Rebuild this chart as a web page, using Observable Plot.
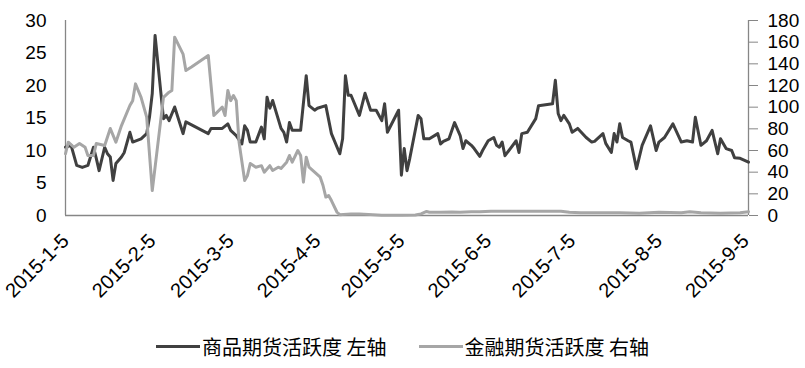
<!DOCTYPE html>
<html>
<head>
<meta charset="utf-8">
<script src="https://cdn.jsdelivr.net/npm/d3@7"></script>
<script src="https://cdn.jsdelivr.net/npm/@observablehq/plot@0.6"></script>
<style>
  html, body { margin: 0; padding: 0; background: #fff; }
  #chart { width: 805px; }
  .legend { display: flex; justify-content: center; align-items: center; gap: 32px;
    font-family: "Noto Sans CJK SC", sans-serif; font-size: 20px; color: #000; margin-top: 20px; }
  .legend .item { display: flex; align-items: center; }
  .legend .sw { width: 44px; height: 3px; margin-right: 2px; }
</style>
</head>
<body>
<div id="chart"></div>
<div class="legend">
  <div class="item"><span class="sw" style="background:#404040"></span><span>商品期货活跃度 左轴</span></div>
  <div class="item"><span class="sw" style="background:#a6a6a6"></span><span>金融期货活跃度 右轴</span></div>
</div>
<script>
// Commodity futures activity (left axis)
const commodityDates = ["2015-01-05","2015-01-07","2015-01-09","2015-01-11","2015-01-13","2015-01-15","2015-01-16","2015-01-17","2015-01-19","2015-01-20","2015-01-21","2015-01-22","2015-01-23","2015-01-25","2015-01-26","2015-01-28","2015-01-29","2015-02-01","2015-02-03","2015-02-04","2015-02-05","2015-02-06","2015-02-09","2015-02-10","2015-02-11","2015-02-13","2015-02-16","2015-02-17","2015-02-25","2015-02-26","2015-03-02","2015-03-04","2015-03-05","2015-03-07","2015-03-09","2015-03-10","2015-03-11","2015-03-12","2015-03-14","2015-03-16","2015-03-17","2015-03-18","2015-03-19","2015-03-20","2015-03-23","2015-03-24","2015-03-25","2015-03-26","2015-03-27","2015-03-30","2015-04-01","2015-04-02","2015-04-04","2015-04-05","2015-04-08","2015-04-10","2015-04-13","2015-04-14","2015-04-15","2015-04-16","2015-04-17","2015-04-20","2015-04-22","2015-04-24","2015-04-26","2015-04-28","2015-04-29","2015-04-30","2015-05-04","2015-05-05","2015-05-06","2015-05-07","2015-05-08","2015-05-11","2015-05-12","2015-05-13","2015-05-15","2015-05-18","2015-05-19","2015-05-20","2015-05-22","2015-05-24","2015-05-26","2015-05-27","2015-05-28","2015-05-30","2015-05-31","2015-06-02","2015-06-03","2015-06-05","2015-06-07","2015-06-08","2015-06-09","2015-06-10","2015-06-11","2015-06-15","2015-06-16","2015-06-17","2015-06-19","2015-06-22","2015-06-23","2015-06-28","2015-06-29","2015-06-30","2015-07-01","2015-07-02","2015-07-04","2015-07-05","2015-07-07","2015-07-10","2015-07-12","2015-07-13","2015-07-16","2015-07-17","2015-07-19","2015-07-20","2015-07-21","2015-07-22","2015-07-23","2015-07-25","2015-07-26","2015-07-28","2015-07-30","2015-08-02","2015-08-04","2015-08-05","2015-08-07","2015-08-10","2015-08-13","2015-08-15","2015-08-17","2015-08-18","2015-08-20","2015-08-22","2015-08-24","2015-08-26","2015-08-27","2015-08-29","2015-08-31","2015-09-01","2015-09-03","2015-09-06"];
const commodityValues = [10.5,10.8,7.7,7.4,7.7,10.5,8.8,6.9,10.5,9.5,9.0,5.4,8.0,9.0,9.7,12.8,11.3,11.8,12.6,15.1,18.8,27.7,14.9,15.4,14.6,16.7,12.6,14.4,12.6,13.4,13.4,14.1,13.1,12.3,11.0,13.8,13.1,11.3,11.3,13.6,11.8,18.2,16.5,17.7,13.4,12.8,11.3,14.3,13.1,13.1,21.5,16.9,16.2,16.5,16.9,12.6,9.5,11.8,21.5,18.5,18.5,15.4,18.8,16.2,16.2,14.6,17.2,12.8,16.2,6.2,10.3,6.9,8.8,15.4,14.9,11.8,11.8,12.6,11.0,11.4,11.8,14.3,12.3,10.3,11.5,10.8,10.3,9.1,10.0,11.5,12.0,10.8,10.5,11.3,9.2,11.5,9.7,12.6,12.8,14.9,16.9,17.2,20.8,15.7,14.6,15.4,14.1,12.8,13.4,12.0,11.3,11.4,12.6,11.1,9.7,12.6,11.3,14.1,12.0,11.5,11.3,7.2,10.8,13.8,10.0,11.3,12.0,14.1,11.3,11.5,11.3,15.1,10.8,11.5,13.1,9.5,11.8,10.3,10.0,8.9,8.8,8.2];

// Financial futures activity (right axis)
const financialDates = ["2015-01-05","2015-01-06","2015-01-08","2015-01-10","2015-01-12","2015-01-13","2015-01-15","2015-01-16","2015-01-19","2015-01-21","2015-01-23","2015-01-25","2015-01-28","2015-01-29","2015-01-30","2015-02-01","2015-02-03","2015-02-05","2015-02-09","2015-02-11","2015-02-12","2015-02-13","2015-02-16","2015-02-17","2015-02-19","2015-02-25","2015-02-27","2015-03-02","2015-03-03","2015-03-04","2015-03-05","2015-03-06","2015-03-07","2015-03-08","2015-03-10","2015-03-11","2015-03-12","2015-03-14","2015-03-16","2015-03-17","2015-03-19","2015-03-20","2015-03-22","2015-03-23","2015-03-25","2015-03-26","2015-03-27","2015-03-29","2015-03-30","2015-03-31","2015-04-01","2015-04-02","2015-04-04","2015-04-06","2015-04-07","2015-04-08","2015-04-09","2015-04-10","2015-04-12","2015-04-13","2015-04-17","2015-04-20","2015-04-28","2015-05-05","2015-05-10","2015-05-12","2015-05-14","2015-05-15","2015-05-19","2015-05-23","2015-05-26","2015-05-30","2015-06-02","2015-06-06","2015-06-09","2015-06-17","2015-06-24","2015-07-01","2015-07-04","2015-07-08","2015-07-15","2015-07-22","2015-07-29","2015-08-05","2015-08-13","2015-08-16","2015-08-20","2015-08-27","2015-09-03","2015-09-06"];
const financialValues = [57,67.7,63,66.5,63,55.4,55.4,66.5,64.6,80.3,67.7,83,101.5,106,121.5,109,90.8,23,109,113.8,115.4,164.6,149,133.8,137,147.7,92.3,100,92.3,115.4,106,110.8,106,67.7,32.3,37,48,44.6,46,40,46,41.5,44.6,43.4,49.2,55.4,49.2,60,55.4,30.8,53.8,44.6,40,35.4,27.7,17,18.5,13.8,3,0.7,1.5,1.5,0.3,0.3,0.5,1.5,3.7,3,3,3.2,3,3.5,3.5,4,4,4,4,4,3,2.5,2.5,2.5,2,3,2.5,3.5,2.5,2,2.5,3.5];

const leftTicks = [0,5,10,15,20,25,30];
const rightTicks = [0,20,40,60,80,100,120,140,160,180];
const xTickLabels = ["2015-1-5","2015-2-5","2015-3-5","2015-4-5","2015-5-5","2015-6-5","2015-7-5","2015-8-5","2015-9-5"];

const parse = d3.utcParse("%Y-%m-%d");
const commodity = commodityDates.map((d,i) => ({date: parse(d), value: commodityValues[i]}));
const financial = financialDates.map((d,i) => ({date: parse(d), value: financialValues[i]}));
const xTicks = xTickLabels.map(s => { const [y,m,d] = s.split("-").map(Number); return new Date(Date.UTC(y, m-1, d)); });
const fmtX = d => `${d.getUTCFullYear()}-${d.getUTCMonth()+1}-${d.getUTCDate()}`;
const ratio = 180 / 30;
const x0 = parse("2015-01-05"), x1 = parse("2015-09-06");
const axisColor = "#868686";

const chart = Plot.plot({
  width: 805,
  height: 312,
  marginLeft: 65,
  marginRight: 57,
  marginTop: 20,
  marginBottom: 97,
  style: {fontFamily: "'Liberation Sans', Arial, sans-serif", fontSize: "19px", color: "#000", background: "#fff"},
  x: {type: "utc", domain: [x0, x1]},
  y: {domain: [0, 30]},
  marks: [
    Plot.axisY({ticks: leftTicks, tickSize: 0, tickPadding: 19, fontSize: 19, label: null}),
    Plot.axisY({anchor: "right", ticks: rightTicks.map(v => v / ratio), tickFormat: d => Math.round(d * ratio),
      tickSize: 9, tickPadding: 10, fontSize: 19, stroke: axisColor, label: null}),
    Plot.axisX({ticks: xTicks, tickFormat: fmtX, tickRotate: -45, tickSize: 0, tickPadding: 22, fontSize: 20, label: null}),
    Plot.ruleX([x0], {stroke: axisColor, strokeWidth: 1.3}),
    Plot.ruleX([x1], {stroke: axisColor, strokeWidth: 1.3}),
    Plot.ruleY([0], {stroke: axisColor, strokeWidth: 1.3}),
    Plot.line(commodity, {x: "date", y: "value", stroke: "#404040", strokeWidth: 3, strokeLinejoin: "round"}),
    Plot.line(financial, {x: "date", y: d => d.value / ratio, stroke: "#a6a6a6", strokeWidth: 3, strokeLinejoin: "round"})
  ]
});
document.getElementById("chart").append(chart);
</script>
</body>
</html>
